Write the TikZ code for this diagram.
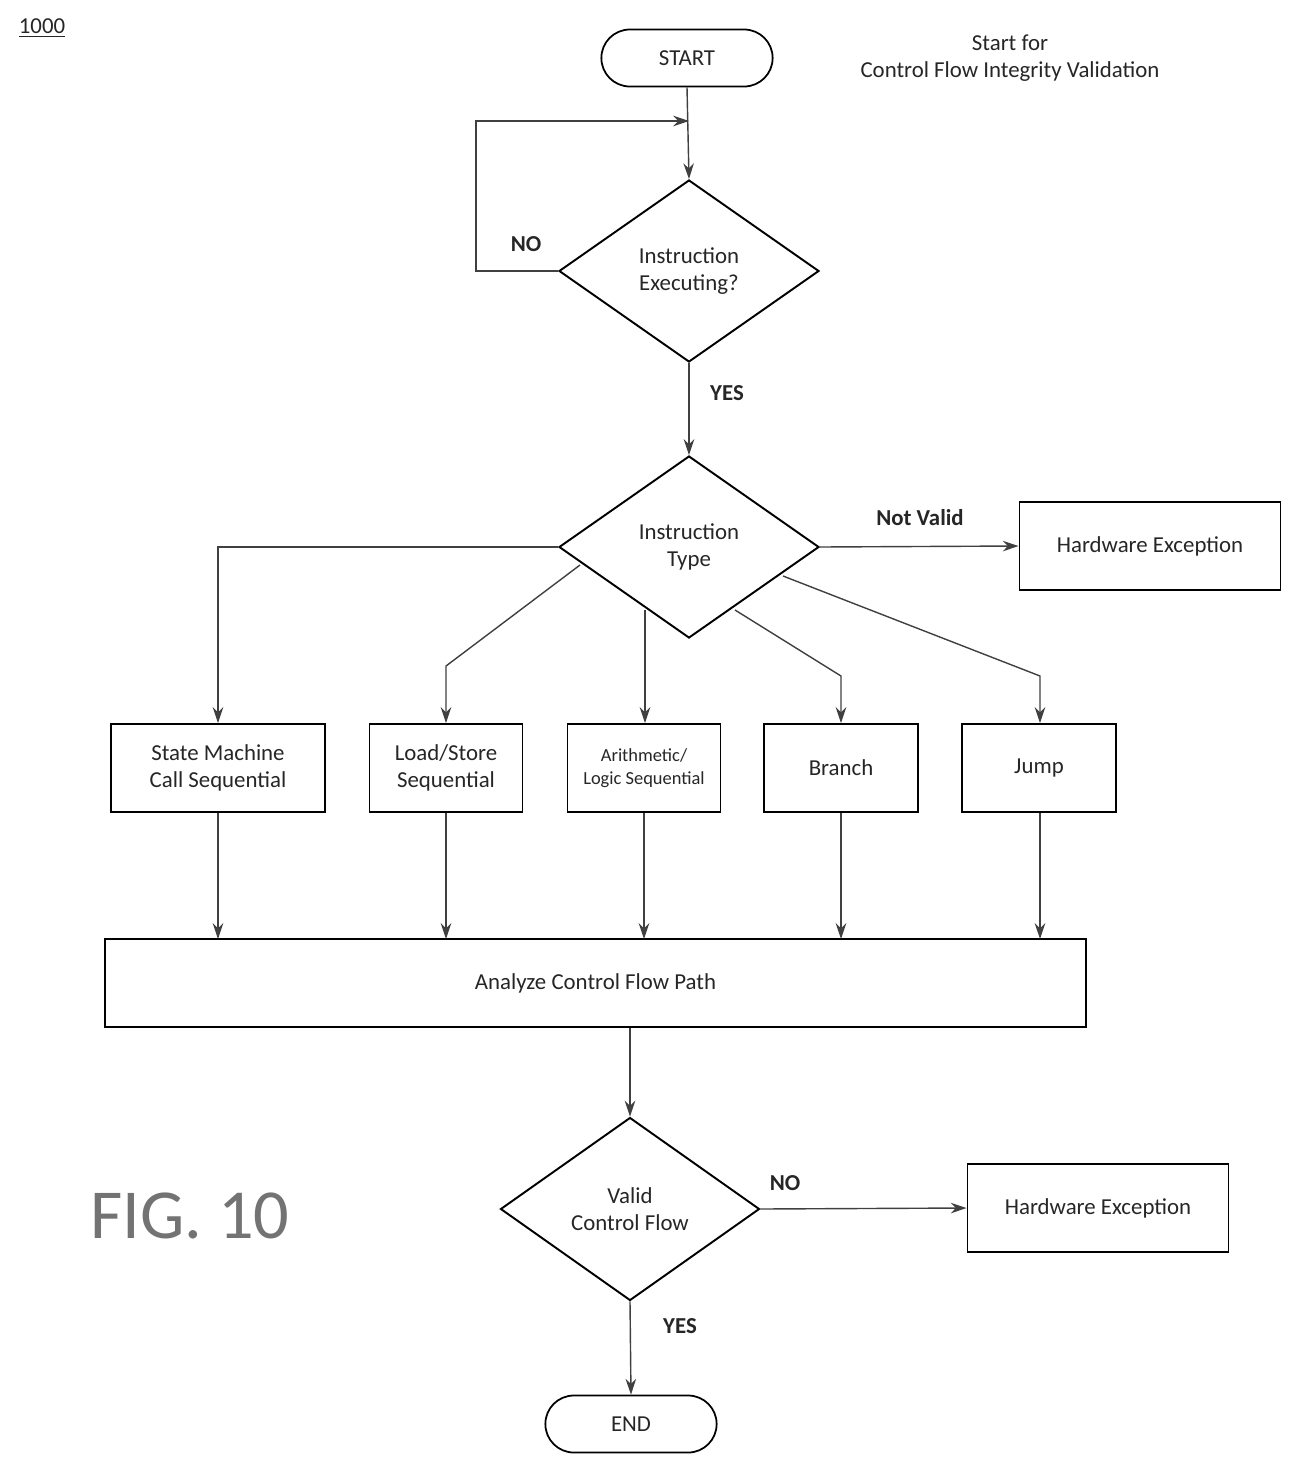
\documentclass[tikz,border=0pt]{standalone}
\usepackage{fontspec}
\setmainfont{Carlito}
\usetikzlibrary{shapes.geometric,arrows.meta}
\begin{document}
\begin{tikzpicture}[x=0.02cm,y=-0.02cm,
  every node/.style={font=\fontsize{13}{15.5}\selectfont,text=black!85},
  box/.style={draw,line width=1.1pt,align=center,inner sep=0pt},
  dia/.style={draw,line width=1.1pt,diamond,aspect=1.43,align=center,inner sep=0pt,minimum width=260*0.02cm,minimum height=182*0.02cm},
  term/.style={draw,line width=1pt,rounded rectangle,minimum width=183*0.02cm,minimum height=57*0.02cm},
  lab/.style={font=\fontsize{13}{15}\selectfont\bfseries},
  arr/.style={draw,line width=0.8pt,black!75,-{Stealth[length=9pt,width=6pt]}},
  ln/.style={draw,line width=0.8pt,black!75}]
\useasboundingbox (0,0) rectangle (1303,1474);
\usetikzlibrary{shapes.misc}
\node (num) at (42,28) {\underline{1000}};
\node[term] (start) at (687,58) {START};
\node[align=center] (title) at (1010,58) {Start for\\Control Flow Integrity Validation};
\node[dia] (d1) at (689,271) {Instruction\\Executing?};
\node[dia] (d2) at (689,547) {Instruction\\Type};
\node[box,minimum width=261*0.02cm,minimum height=88*0.02cm] (hw1) at (1150,546) {Hardware Exception};
\node[box,minimum width=214*0.02cm,minimum height=88*0.02cm] (sm) at (218,768) {State Machine\\Call Sequential};
\node[box,minimum width=153*0.02cm,minimum height=88*0.02cm] (ls) at (446,768) {Load/Store\\Sequential};
\node[box,minimum width=153*0.02cm,minimum height=88*0.02cm,font=\fontsize{10.5}{13}\selectfont] (al) at (644,768) {Arithmetic/\\Logic Sequential};
\node[box,minimum width=154*0.02cm,minimum height=88*0.02cm] (br) at (841,768) {Branch};
\node[box,minimum width=154*0.02cm,minimum height=88*0.02cm] (jp) at (1039,768) {Jump};
\node[box,minimum width=981*0.02cm,minimum height=88*0.02cm] (an) at (595.5,983) {Analyze Control Flow Path};
\node[dia,minimum width=259*0.02cm,minimum height=183*0.02cm] (d3) at (630,1209) {Valid\\Control Flow};
\node[box,minimum width=261*0.02cm,minimum height=88*0.02cm] (hw2) at (1098,1208) {Hardware Exception};
\node[term] (end) at (631,1424) {END};
\node[font=\fontsize{40}{44}\selectfont,text=black!55] (fig) at (190,1216) {FIG. 10};
\node[lab] (no1) at (526,244) {NO};
\node[lab] (yes1) at (727,393) {YES};
\node[lab] (nv) at (920,518) {Not Valid};
\node[lab] (no2) at (785,1183) {NO};
\node[lab] (yes2) at (680,1326) {YES};
\coordinate (loopend) at (689,121);
\path[arr] (start.south) -- (d1.north);
\path[arr] (d1.west) -- (476,271) -- (476,121) -- (loopend);
\path[arr] (d1.south) -- (d2.north);
\path[arr] (d2.east) -- (hw1.west);
\path[arr] (d2.west) -| (sm.north);
\path[arr] (580,565) -- (446,666) -- (ls.north);
\path[arr] (645,610) -- (al.north-|645,0);
\path[arr] (735,610) -- (841,676) -- (br.north);
\path[arr] (783,576) -- (1040,676) -- (jp.north-|1040,0);
\foreach \n/\x in {sm/218,ls/446,al/644,br/841,jp/1040}
  \path[arr] (\n.south-|\x,0) -- (\x,939);
\path[arr] (an.south-|630,0) -- (d3.north);
\path[arr] (d3.east) -- (hw2.west);
\path[arr] (d3.south) -- (end.north);
\end{tikzpicture}
\end{document}
